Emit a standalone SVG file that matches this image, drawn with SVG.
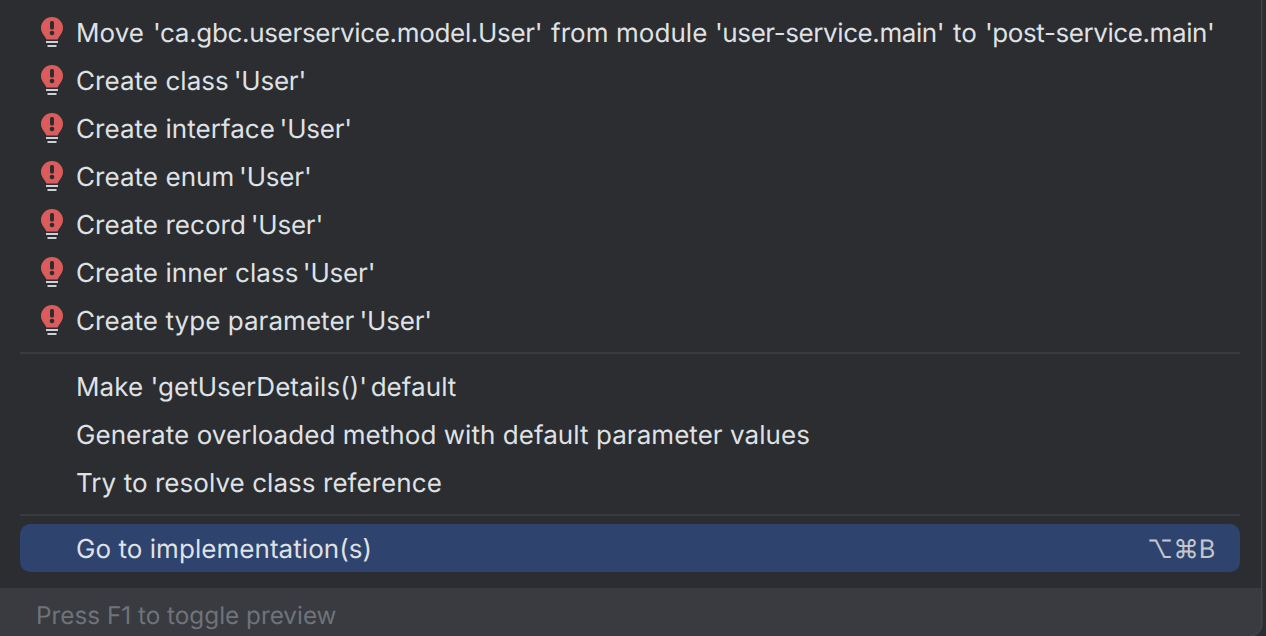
<svg xmlns="http://www.w3.org/2000/svg" width="1266" height="636" viewBox="0 0 1266 636">
<style>
text{font-family:Inter,"Noto Sans",sans-serif;font-size:26px;fill:#dfe1e5;text-rendering:geometricPrecision;letter-spacing:.05px}
.sep{stroke:#393b40;stroke-width:2}
.foot{font-size:24.300px;fill:#6f737a;letter-spacing:0}
.key{font-size:25.500px;fill:#c4c6cb}
.q{letter-spacing:-.2px}
</style>
<defs>
<g id="bulb">
<path d="M52 17a11 11 0 0 1 11 11c0 3.600-1.800 6-3.500 8.200-1 1.300-1.600 2.400-1.900 3.300h-11.200c-.3-.9-.9-2-1.900-3.300-1.700-2.200-3.500-4.600-3.500-8.200A11 11 0 0 1 52 17z" fill="#db5c5c"/>
<rect x="50" y="21" width="4" height="8.500" rx="1.500" fill="#2b2d30"/>
<circle cx="52" cy="33" r="2.300" fill="#2b2d30"/>
<path d="M46 42h12M47.500 46h9" stroke="#ced0d6" stroke-width="2" fill="none"/>
</g>
</defs>
<rect width="1266" height="636" fill="#2b2d30"/>
<path d="M0 588H1261V624a12 12 0 0 1-12 12H0z" fill="#393b40"/>
<path d="M1261.700 0V624a12 12 0 0 1-12 12" fill="none" stroke="#43454a" stroke-width="1.500"/>
<g id="item-1"><use href="#bulb"/><text x="76" y="42">Move <tspan x="153" letter-spacing="-.33">'ca.gbc.userservice.model.User'</tspan> <tspan x="551">from</tspan> <tspan x="616">module</tspan> <tspan x="715" letter-spacing="-.42">'user-service.main'</tspan> <tspan x="953">to</tspan> <tspan x="985" letter-spacing="-.42">'post-service.main'</tspan></text></g>
<g id="item-2"><use href="#bulb" y="48"/><text x="76" y="90">Create class <tspan class="q" dx="-2.600">'User'</tspan></text></g>
<g id="item-3"><use href="#bulb" y="96"/><text x="76" y="138">Create interface <tspan class="q" dx="-2.800">'User'</tspan></text></g>
<g id="item-4"><use href="#bulb" y="144"/><text x="76" y="186">Create enum <tspan class="q" dx="-2.600">'User'</tspan></text></g>
<g id="item-5"><use href="#bulb" y="192"/><text x="76" y="234">Create record <tspan class="q" dx="-2.700">'User'</tspan></text></g>
<g id="item-6"><use href="#bulb" y="240"/><text x="76" y="282">Create inner class <tspan class="q" dx="-3">'User'</tspan></text></g>
<g id="item-7"><use href="#bulb" y="288"/><text x="76" y="330">Create type parameter <tspan class="q" dx="-2.400">'User'</tspan></text></g>
<line class="sep" x1="20" x2="1240" y1="353" y2="353"/>
<g id="item-8"><text x="76" y="396">Make 'getUserDetails()' <tspan dx="-3.800">default</tspan></text></g>
<g id="item-9"><text x="76" y="444">Generate overloaded method with default parameter values</text></g>
<g id="item-10"><text x="76" y="492">Try to resolve class reference</text></g>
<line class="sep" x1="20" x2="1240" y1="515" y2="515"/>
<g id="item-11"><rect x="20" y="524" width="1220" height="48" rx="10" fill="#2e436e"/><text x="76" y="558">Go to implementation(s)</text><text class="key" x="1215.500" y="558" text-anchor="end">⌥⌘B</text></g>
<g id="footer"><text class="foot" x="36" y="624">Press F1 to toggle preview</text></g>
</svg>
